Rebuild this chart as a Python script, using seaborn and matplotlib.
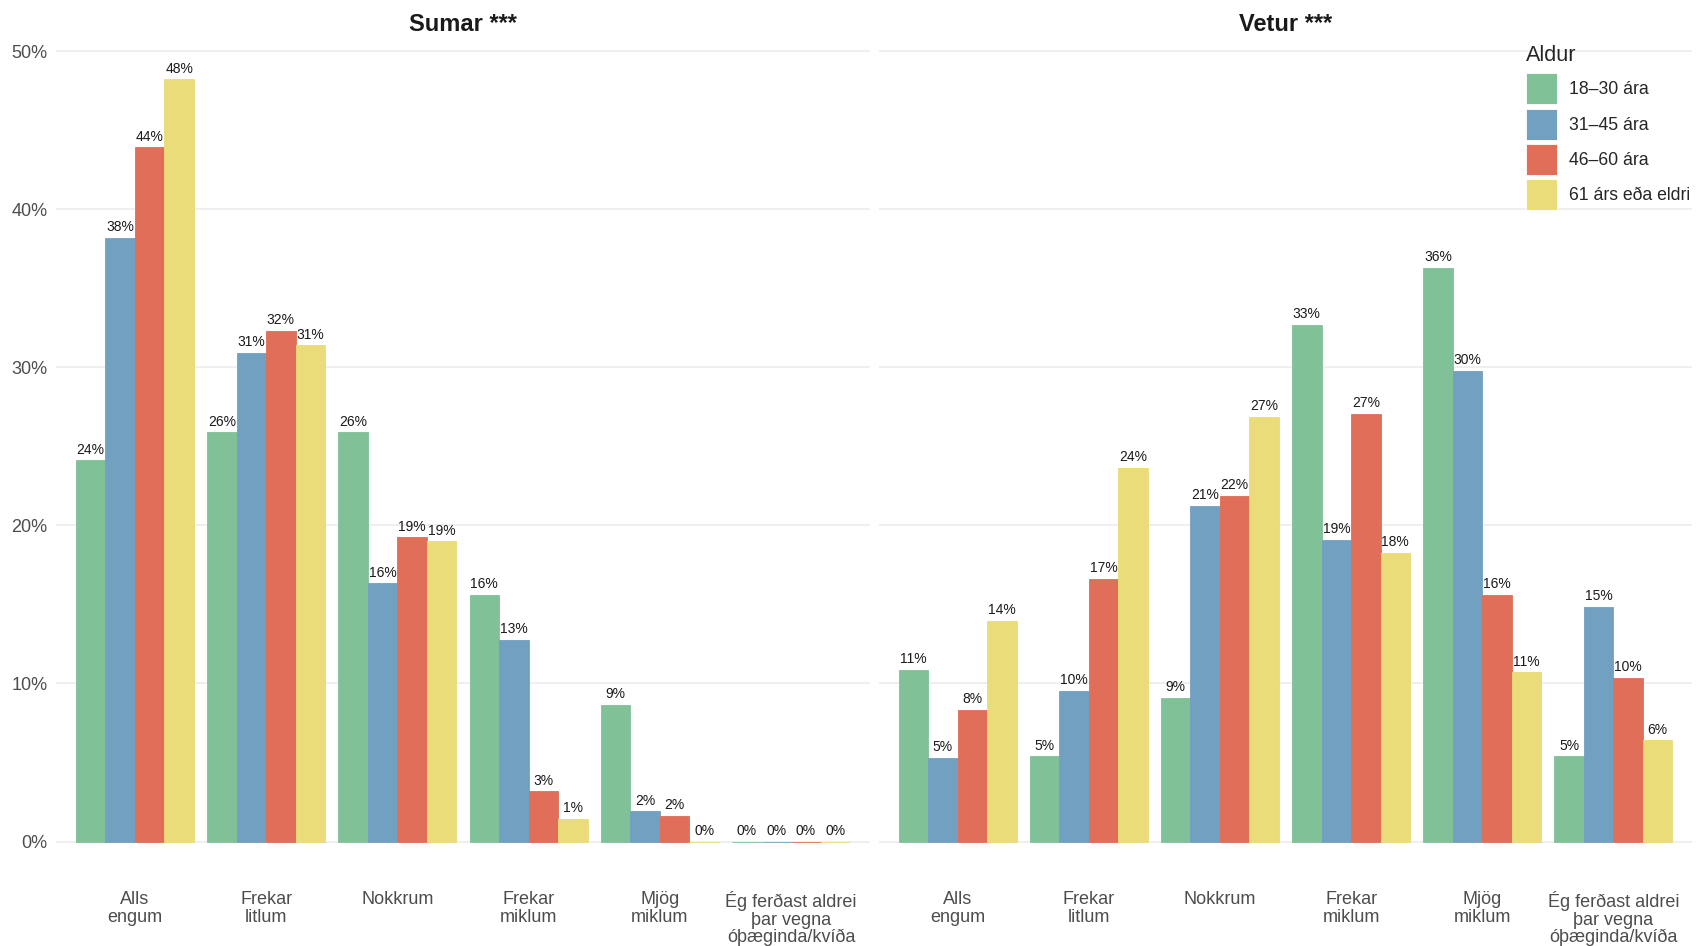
import matplotlib
matplotlib.use("Agg")
import matplotlib.pyplot as plt
import seaborn as sns
import pandas as pd
from matplotlib.ticker import FuncFormatter

# ---- data ----
categories = ["Alls\nengum", "Frekar\nlitlum", "Nokkrum", "Frekar\nmiklum",
              "Mjög\nmiklum", "Ég ferðast aldrei\nþar vegna\nóþæginda/kvíða"]
age_groups = ["18–30 ára", "31–45 ára", "46–60 ára", "61 árs eða eldri"]
panels = ["Sumar ***", "Vetur ***"]

sumar_18_30 = [24.1, 25.9, 25.9, 15.6, 8.65, 0.0]
sumar_31_45 = [38.2, 30.9, 16.35, 12.75, 1.92, 0.0]
sumar_46_60 = [43.9, 32.3, 19.25, 3.19, 1.62, 0.0]
sumar_61 = [48.2, 31.4, 19.0, 1.45, 0.0, 0.0]

vetur_18_30 = [10.87, 5.4, 9.08, 32.69, 36.3, 5.4]
vetur_31_45 = [5.29, 9.54, 21.24, 19.08, 29.77, 14.86]
vetur_46_60 = [8.32, 16.62, 21.88, 27.05, 15.61, 10.35]
vetur_61 = [13.96, 23.64, 26.88, 18.27, 10.72, 6.42]

colors = ["#80C197", "#72A0C1", "#E06E58", "#EADC78"]

series = {
    "Sumar ***": [sumar_18_30, sumar_31_45, sumar_46_60, sumar_61],
    "Vetur ***": [vetur_18_30, vetur_31_45, vetur_46_60, vetur_61],
}

rows = []
for p in panels:
    for a, vals in zip(age_groups, series[p]):
        for c, v in zip(categories, vals):
            rows.append({"panel": p, "cat": c, "age": a, "val": v})
df = pd.DataFrame(rows)

# ---- style ----
sns.set_style("white")
plt.rcParams["font.family"] = ["Liberation Sans", "DejaVu Sans"]

W, H = 1698, 946
fig = plt.figure(figsize=(W / 100, H / 100), dpi=100)

top_px, bot_px = 38, 880
zero_px, fifty_px = 841.5, 51
ppu = (zero_px - fifty_px) / 50.0
ymax = 50 + (fifty_px - top_px) / ppu
ymin = -(bot_px - zero_px) / ppu

panel_x = [(56, 870), (879, 1692)]
axes = []
for i, p in enumerate(panels):
    x0, x1 = panel_x[i]
    ax = fig.add_axes([x0 / W, 1 - bot_px / H, (x1 - x0) / W, (bot_px - top_px) / H])
    sub = df[df["panel"] == p]
    sns.barplot(data=sub, x="cat", y="val", hue="age", order=categories,
                hue_order=age_groups, palette=colors, width=0.9, errorbar=None,
                saturation=1, linewidth=0.6, ax=ax)
    for cont, col in zip(ax.containers, colors):
        for bar in cont:
            bar.set_edgecolor(col)
        vals = [b.get_height() for b in cont]
        ax.bar_label(cont, labels=[f"{round(v):d}%" for v in vals], padding=2.5,
                     fontsize=10, color="#1a1a1a")
    ax.set_xlim(-0.6, 5.6)
    ax.set_ylim(ymin, ymax)
    ax.set_yticks([0, 10, 20, 30, 40, 50])
    ax.yaxis.set_major_formatter(FuncFormatter(lambda v, pos: f"{v:.0f}%"))
    ax.grid(axis="y", color="#EBEBEB", linewidth=1.1)
    ax.grid(axis="x", visible=False)
    ax.set_axisbelow(True)
    for s in ax.spines.values():
        s.set_visible(False)
    ax.tick_params(axis="both", length=0, labelsize=13, colors="#4D4D4D")
    ax.tick_params(axis="x", pad=8)
    ax.tick_params(axis="y", pad=6)
    for t in ax.get_xticklabels():
        t.set_linespacing(1.03)
    ax.set_xlabel("")
    ax.set_ylabel("")
    ax.set_title(p, fontsize=17, fontweight="bold", pad=5, color="#1a1a1a")
    if i == 1:
        ax.set_yticklabels([])
    handles, labels = ax.get_legend_handles_labels()
    if ax.get_legend() is not None:
        ax.get_legend().remove()
    axes.append(ax)

leg = fig.legend(handles, labels, loc="upper left",
                 bbox_to_anchor=(1517 / W, 1 - 36 / H), frameon=False, borderpad=0,
                 title="Aldur", alignment="left", handlelength=1.77, handleheight=2.35,
                 labelspacing=0.23, handletextpad=0.65, fontsize=12.7,
                 title_fontsize=15.5)
leg._legend_box.sep = 5.3

fig.savefig("out.png", dpi=100, facecolor="white")
